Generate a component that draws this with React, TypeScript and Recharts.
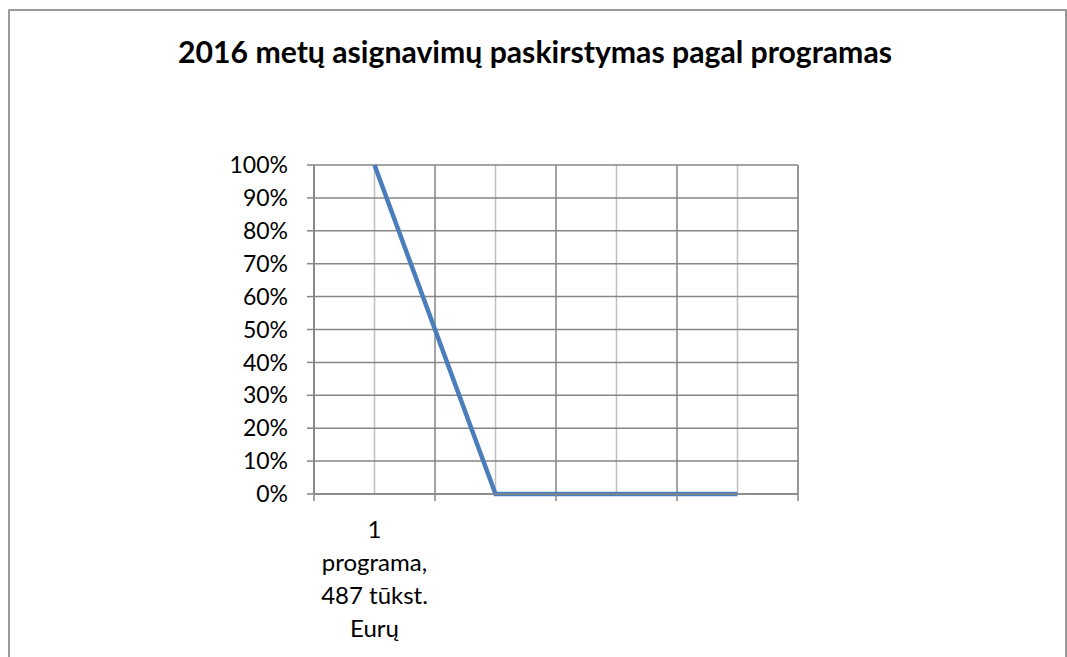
import React from "react";
import { LineChart, Line, XAxis, YAxis, CartesianGrid, Text } from "recharts";

const title = "2016 metų asignavimų paskirstymas pagal programas";
const categories = ["1 programa, 487 tūkst. Eurų", "", "", ""];
const shares = [1, 0, 0, 0];
const percentTicks = [0, 0.1, 0.2, 0.3, 0.4, 0.5, 0.6, 0.7, 0.8, 0.9, 1];
// category boundaries, in category-index units (edges between slots)
const boundaryTicks = [...categories.map((_, i) => i - 0.5), categories.length - 0.5];

const data = categories.map((name, i) => ({ name, share: shares[i] }));

const W = 1067;
const H = 657;
const FONT = "Lato, 'Open Sans', sans-serif";
const GRID_DARK = "#868686";
const GRID_LIGHT = "#c0c0c0";

// plot box
const plotLeft = 314;
const plotRight = 798;
const plotTop = 165;
const plotBottom = 494;
const yAxisWidth = 80;
const xAxisHeight = 80;
const halfBand = (plotRight - plotLeft) / categories.length / 2;

const CategoryTick = (props: any) => {
  const { x, y, payload } = props;
  return (
    <Text
      x={x}
      y={y}
      width={116}
      textAnchor="middle"
      verticalAnchor="start"
      lineHeight={33}
      style={{ fontSize: "24px", fontFamily: FONT, fill: "#000" }}
    >
      {payload.value}
    </Text>
  );
};

export default function App() {
  return (
    <div style={{ position: "absolute", left: 0, top: 0, width: W, height: H, overflow: "hidden", background: "#fff" }}>
      <div
        style={{
          position: "absolute",
          left: 8,
          top: 9,
          width: 1059,
          height: 720,
          border: "2px solid #9a9a9a",
          boxSizing: "border-box",
        }}
      />
      <div
        style={{
          position: "absolute",
          left: 0,
          width: W,
          top: 33,
          paddingLeft: 3,
          boxSizing: "border-box",
          textAlign: "center",
          fontFamily: FONT,
          fontWeight: 700,
          fontSize: 30.2,
          lineHeight: "36px",
          color: "#000",
        }}
      >
        {title}
      </div>
      <div style={{ position: "absolute", left: 0, top: 0 }}>
        <LineChart
          width={W}
          height={H}
          data={data}
          margin={{
            top: plotTop,
            right: W - plotRight,
            bottom: H - plotBottom - xAxisHeight - 1,
            left: plotLeft - yAxisWidth,
          }}
        >
          <CartesianGrid xAxisId="cat" horizontal={false} stroke={GRID_LIGHT} strokeWidth={1.5} />
          <CartesianGrid xAxisId="bounds" stroke={GRID_DARK} strokeWidth={1.5} />
          <XAxis
            xAxisId="bounds"
            type="number"
            padding={{ left: halfBand, right: halfBand }}
            ticks={boundaryTicks}
            interval={0}
            tickFormatter={() => ""}
            tickSize={7}
            height={1}
            axisLine={{ stroke: GRID_DARK, strokeWidth: 1.5 }}
            tickLine={{ stroke: GRID_DARK, strokeWidth: 1.5 }}
          />
          <XAxis
            xAxisId="cat"
            dataKey="name"
            interval={0}
            padding={{ left: halfBand, right: halfBand }}
            axisLine={false}
            tickLine={false}
            tickSize={0}
            tickMargin={26}
            height={xAxisHeight}
            tick={<CategoryTick />}
          />
          <YAxis
            width={yAxisWidth}
            domain={[0, 1]}
            ticks={percentTicks}
            interval={0}
            tickFormatter={(v: number) => `${Math.round(v * 100)}%`}
            tickSize={7}
            tickMargin={19}
            axisLine={{ stroke: GRID_DARK, strokeWidth: 1.5 }}
            tickLine={{ stroke: GRID_DARK, strokeWidth: 1.5 }}
            tick={{ fill: "#000", fontSize: 23, fontFamily: FONT }}
          />
          <Line
            xAxisId="cat"
            type="linear"
            dataKey="share"
            stroke="#4a7ebb"
            strokeWidth={4.5}
            dot={false}
            isAnimationActive={false}
          />
        </LineChart>
      </div>
    </div>
  );
}
